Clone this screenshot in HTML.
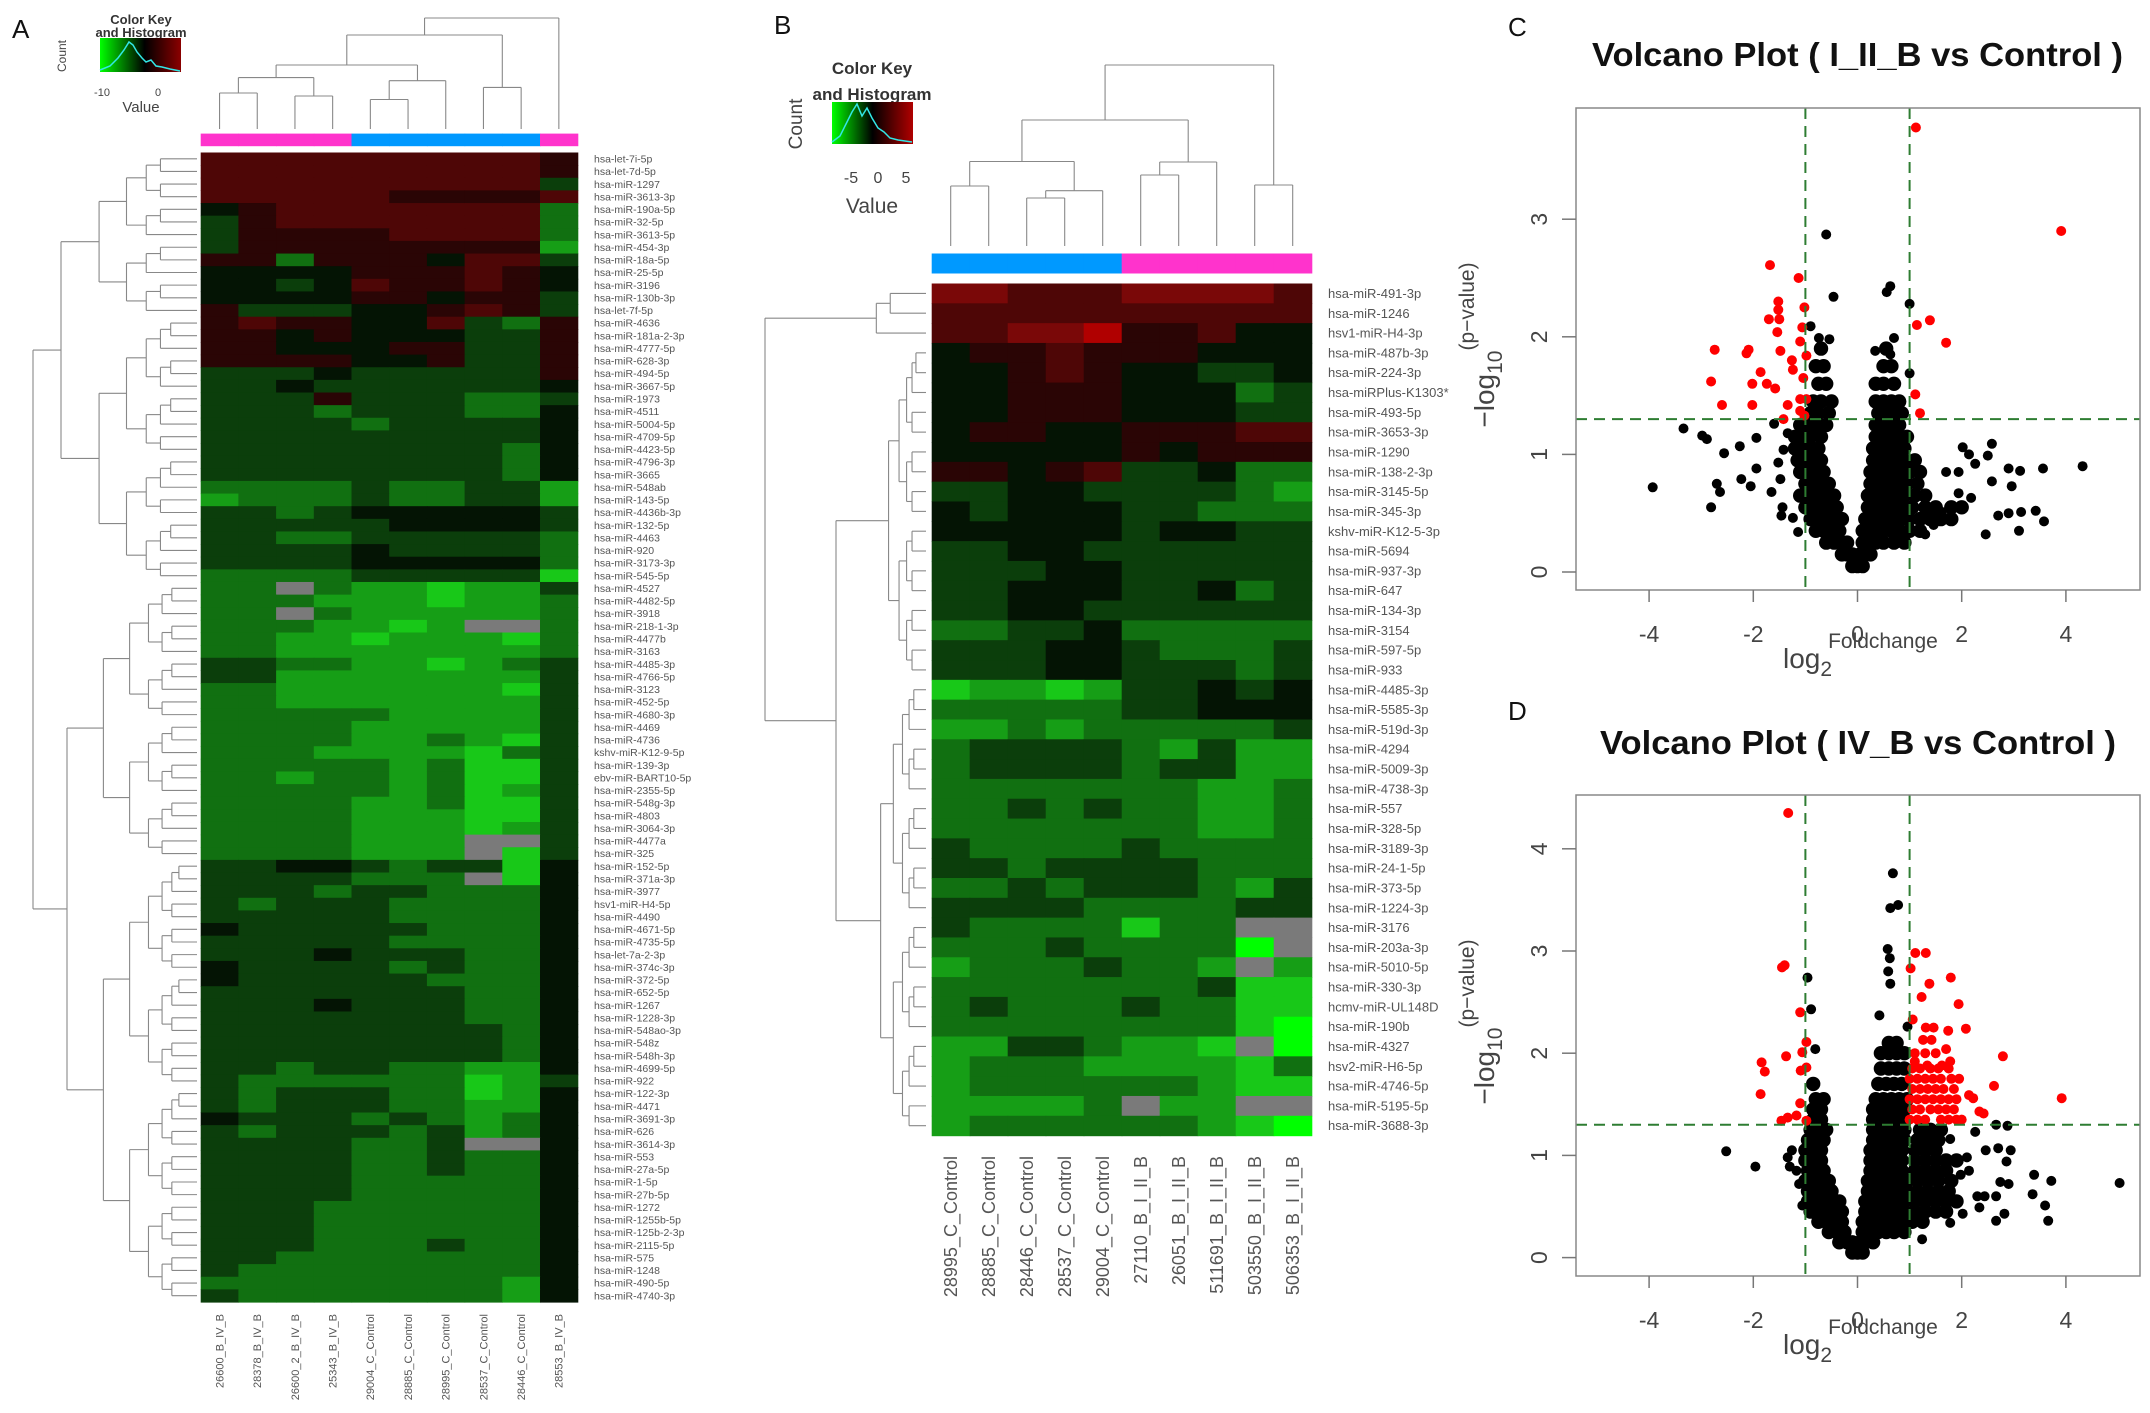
<!DOCTYPE html>
<html><head><meta charset="utf-8"><style>
html,body{margin:0;padding:0;background:#fff;}
svg{display:block;font-family:"Liberation Sans",Arial,sans-serif;}
</style></head><body>
<svg id="fig" width="2150" height="1413" viewBox="0 0 2150 1413" xmlns="http://www.w3.org/2000/svg">
<defs>
<linearGradient id="keyGrad" x1="0" x2="1" y1="0" y2="0">
<stop offset="0" stop-color="#00ff00"/><stop offset="0.55" stop-color="#000"/><stop offset="1" stop-color="#8b0000"/>
</linearGradient>
<linearGradient id="keyGradB" x1="0" x2="1" y1="0" y2="0">
<stop offset="0" stop-color="#00ff00"/><stop offset="0.5" stop-color="#000"/><stop offset="1" stop-color="#b00000"/>
</linearGradient>
</defs>
<g font-size="26" fill="#111">
<text x="12" y="38">A</text>
<text x="774" y="34">B</text>
<text x="1508" y="36">C</text>
<text x="1508" y="720">D</text>
</g>
<g>
<text x="141" y="24" text-anchor="middle" font-size="13" font-weight="bold" fill="#333">Color Key</text>
<text x="141" y="37" text-anchor="middle" font-size="13" font-weight="bold" fill="#333">and Histogram</text>
<rect x="100" y="38" width="81" height="34" fill="url(#keyGrad)"/>
<polyline points="100,70 110,66 118,58 124,50 129,42 133,45 137,52 142,58 146,62 151,60 156,66 162,67 170,69 180,71" fill="none" stroke="#33e6e6" stroke-width="1.5"/>
<text x="102" y="96" text-anchor="middle" font-size="11" fill="#444">-10</text>
<text x="158" y="96" text-anchor="middle" font-size="11" fill="#444">0</text>
<text x="141" y="112" text-anchor="middle" font-size="15" fill="#444">Value</text>
<text transform="translate(66,56) rotate(-90)" text-anchor="middle" font-size="12" fill="#444">Count</text>
</g>
<g>
<text x="872" y="74" text-anchor="middle" font-size="17" font-weight="bold" fill="#333">Color Key</text>
<text x="872" y="100" text-anchor="middle" font-size="17" font-weight="bold" fill="#333">and Histogram</text>
<rect x="832" y="102" width="81" height="42" fill="url(#keyGradB)"/>
<polyline points="832,142 840,136 846,124 852,112 857,104 862,116 867,108 872,118 878,128 884,132 890,138 898,140 912,142" fill="none" stroke="#33e6e6" stroke-width="1.5"/>
<text x="851" y="183" text-anchor="middle" font-size="16" fill="#444">-5</text>
<text x="878" y="183" text-anchor="middle" font-size="16" fill="#444">0</text>
<text x="906" y="183" text-anchor="middle" font-size="16" fill="#444">5</text>
<text x="872" y="213" text-anchor="middle" font-size="21" fill="#444">Value</text>
<text transform="translate(802,124) rotate(-90)" text-anchor="middle" font-size="19" fill="#444">Count</text>
</g>
<g id="layer"></g>
</svg>
<script>
const hmACols = ["26600_B_IV_B","28378_B_IV_B","26600_2_B_IV_B","25343_B_IV_B","29004_C_Control","28885_C_Control","28995_C_Control","28537_C_Control","28446_C_Control","28553_B_IV_B"];
const hmAGroups = ["B","B","B","B","C","C","C","C","C","B"];
const hmARowLabels = ["hsa-let-7i-5p","hsa-let-7d-5p","hsa-miR-1297","hsa-miR-3613-3p","hsa-miR-190a-5p","hsa-miR-32-5p","hsa-miR-3613-5p","hsa-miR-454-3p","hsa-miR-18a-5p","hsa-miR-25-5p","hsa-miR-3196","hsa-miR-130b-3p","hsa-let-7f-5p","hsa-miR-4636","hsa-miR-181a-2-3p","hsa-miR-4777-5p","hsa-miR-628-3p","hsa-miR-494-5p","hsa-miR-3667-5p","hsa-miR-1973","hsa-miR-4511","hsa-miR-5004-5p","hsa-miR-4709-5p","hsa-miR-4423-5p","hsa-miR-4796-3p","hsa-miR-3665","hsa-miR-548ab","hsa-miR-143-5p","hsa-miR-4436b-3p","hsa-miR-132-5p","hsa-miR-4463","hsa-miR-920","hsa-miR-3173-3p","hsa-miR-545-5p","hsa-miR-4527","hsa-miR-4482-5p","hsa-miR-3918","hsa-miR-218-1-3p","hsa-miR-4477b","hsa-miR-3163","hsa-miR-4485-3p","hsa-miR-4766-5p","hsa-miR-3123","hsa-miR-452-5p","hsa-miR-4680-3p","hsa-miR-4469","hsa-miR-4736","kshv-miR-K12-9-5p","hsa-miR-139-3p","ebv-miR-BART10-5p","hsa-miR-2355-5p","hsa-miR-548g-3p","hsa-miR-4803","hsa-miR-3064-3p","hsa-miR-4477a","hsa-miR-325","hsa-miR-152-5p","hsa-miR-371a-3p","hsa-miR-3977","hsv1-miR-H4-5p","hsa-miR-4490","hsa-miR-4671-5p","hsa-miR-4735-5p","hsa-let-7a-2-3p","hsa-miR-374c-3p","hsa-miR-372-5p","hsa-miR-652-5p","hsa-miR-1267","hsa-miR-1228-3p","hsa-miR-548ao-3p","hsa-miR-548z","hsa-miR-548h-3p","hsa-miR-4699-5p","hsa-miR-922","hsa-miR-122-3p","hsa-miR-4471","hsa-miR-3691-3p","hsa-miR-626","hsa-miR-3614-3p","hsa-miR-553","hsa-miR-27a-5p","hsa-miR-1-5p","hsa-miR-27b-5p","hsa-miR-1272","hsa-miR-1255b-5p","hsa-miR-125b-2-3p","hsa-miR-2115-5p","hsa-miR-575","hsa-miR-1248","hsa-miR-490-5p","hsa-miR-4740-3p"];
const hmAValues = ["7777777776","7777777776","7777777774","7777766667","5677777773","4677777773","4666677773","4666666662","6636665774","5555666765","5545766765","5555665664","6444556764","6766557436","6656555446","6655566446","6666556446","4445444446","4454444445","4446444334","4443444335","4444344445","4444444445","4444444435","4444444435","4444444435","3333433442","2333433442","4434555554","4444455554","4433444443","4444544443","4444555553","3333444441","33x3221224","3332221223","33x3222223","3332212xx3","3322122213","3322222223","4433221234","4422222224","3322222214","3322222224","3333322224","3333222224","3333223214","3332222134","3333323114","3323323114","3333323124","3333223114","3333222114","3333222124","3333222xx4","3333222x14","4455434415","4444333x15","4443443335","4344433335","4444433335","5444443335","4444433335","4445444335","5444434335","5444443335","4444444335","4445444335","4444444335","4444444435","4444444435","4444444435","4434433225","4333333124","4344433125","4344433225","5444343235","4344434235","4444334xx5","4444334335","4444334335","4444333335","4444333335","4443333335","4443333335","4443333335","4443334335","4433333335","4333333335","3333333325","4333333325"];
const hmBCols = ["28995_C_Control","28885_C_Control","28446_C_Control","28537_C_Control","29004_C_Control","27110_B_I_II_B","26051_B_I_II_B","511691_B_I_II_B","503550_B_I_II_B","506353_B_I_II_B"];
const hmBGroups = ["C","C","C","C","C","B","B","B","B","B"];
const hmBRowLabels = ["hsa-miR-491-3p","hsa-miR-1246","hsv1-miR-H4-3p","hsa-miR-487b-3p","hsa-miR-224-3p","hsa-miRPlus-K1303*","hsa-miR-493-5p","hsa-miR-3653-3p","hsa-miR-1290","hsa-miR-138-2-3p","hsa-miR-3145-5p","hsa-miR-345-3p","kshv-miR-K12-5-3p","hsa-miR-5694","hsa-miR-937-3p","hsa-miR-647","hsa-miR-134-3p","hsa-miR-3154","hsa-miR-597-5p","hsa-miR-933","hsa-miR-4485-3p","hsa-miR-5585-3p","hsa-miR-519d-3p","hsa-miR-4294","hsa-miR-5009-3p","hsa-miR-4738-3p","hsa-miR-557","hsa-miR-328-5p","hsa-miR-3189-3p","hsa-miR-24-1-5p","hsa-miR-373-5p","hsa-miR-1224-3p","hsa-miR-3176","hsa-miR-203a-3p","hsa-miR-5010-5p","hsa-miR-330-3p","hcmv-miR-UL148D","hsa-miR-190b","hsa-miR-4327","hsv2-miR-H6-5p","hsa-miR-4746-5p","hsa-miR-5195-5p","hsa-miR-3688-3p"];
const hmBValues = ["8877788887","7777777777","7788966755","5667666555","5567655445","5566655534","5566655544","5665566677","5555565666","6656744533","4455444432","5455544333","5555545544","4455444444","4445544444","4455544534","4455444444","3344533333","4445543334","4445544434","1221244545","3333344555","2232333334","3444432422","3444434422","3333333223","3343433223","3333333223","4333343333","4434444333","3343444324","4444333344","43333133xx","333433330x","23334332x2","3333333411","3433343311","3333333310","22443221x0","2333222213","2333333211","22223x22xx","2333333210"];
const volcCRedX = [1.12,3.91,-1.68,-1.13,-1.52,-1.52,-1.02,-1.70,-1.50,-1.54,-1.06,-1.10,-2.74,-2.09,-2.13,-1.48,-0.98,-1.26,-1.24,-1.86,-1.04,-2.81,-2.02,-1.74,-1.58,-2.60,-2.02,-1.34,-1.10,-0.98,-1.10,-1.02,-1.42,1.14,1.39,1.70,1.11,1.20];
const volcCRedY = [3.78,2.90,2.61,2.50,2.30,2.23,2.25,2.15,2.15,2.04,2.08,1.96,1.89,1.89,1.86,1.88,1.84,1.80,1.72,1.70,1.65,1.62,1.60,1.60,1.56,1.42,1.42,1.42,1.47,1.47,1.37,1.33,1.30,2.10,2.14,1.95,1.51,1.35];
const volcCBlackX = [-3.34,-2.98,-2.89,-2.56,-3.93,-2.70,-2.64,-2.81,-2.26,-1.94,-1.94,-2.23,-2.05,-1.65,-1.52,-1.48,-1.42,-1.44,-1.46,-1.14,-1.24,-1.60,-1.34,-0.60,-0.46,0.63,0.56,1.00,-0.90,-0.74,-0.54,0.70,0.34,0.63,1.00,2.58,2.02,2.14,2.50,2.26,1.70,1.94,2.90,3.12,3.56,4.32,2.96,2.58,1.94,2.18,2.70,2.90,3.14,3.42,3.58,3.10,2.46,1.62,1.46,1.30];
const volcCBlackY = [1.22,1.16,1.13,1.01,0.72,0.75,0.68,0.55,1.07,1.14,0.88,0.79,0.73,0.68,0.93,0.79,1.04,0.55,0.48,0.34,0.46,1.26,1.18,2.87,2.34,2.43,2.38,2.28,2.09,1.99,1.98,1.99,1.88,1.85,1.69,1.09,1.06,1.00,0.99,0.92,0.85,0.85,0.88,0.86,0.88,0.90,0.73,0.77,0.67,0.63,0.48,0.50,0.51,0.52,0.43,0.35,0.32,0.51,0.40,0.32];
const volcCCore = [
[0.05,[-0.1,0,0.1]],
[0.15,[-0.3,-0.2,-0.1,0.05,0.15,0.25]],
[0.25,[-0.6,-0.45,-0.3,-0.2,0.1,0.2,0.35,0.5,0.7,0.9]],
[0.35,[-0.8,-0.65,-0.5,-0.35,0.1,0.2,0.35,0.5,0.65,0.8,1.0,1.2]],
[0.45,[-0.9,-0.75,-0.6,-0.45,-0.3,0.15,0.25,0.4,0.55,0.7,0.85,1.0,1.2,1.4,1.6,1.8]],
[0.55,[-1.0,-0.85,-0.7,-0.55,-0.4,0.2,0.3,0.45,0.6,0.75,0.9,1.05,1.3,1.5,1.8,2.0]],
[0.65,[-1.1,-0.9,-0.75,-0.6,-0.45,0.2,0.3,0.45,0.6,0.75,0.9,1.1,1.3]],
[0.75,[-1.0,-0.85,-0.7,-0.55,0.25,0.35,0.5,0.65,0.8,0.95,1.15]],
[0.85,[-1.1,-0.95,-0.8,-0.65,0.25,0.4,0.55,0.7,0.85,1.0,1.2]],
[0.95,[-1.15,-1.0,-0.85,-0.7,0.3,0.45,0.6,0.75,0.9,1.1]],
[1.05,[-1.2,-1.05,-0.9,-0.75,0.3,0.45,0.6,0.75,0.9]],
[1.15,[-1.2,-1.05,-0.9,-0.7,0.35,0.5,0.65,0.8,0.95]],
[1.25,[-1.1,-0.95,-0.8,-0.6,0.35,0.5,0.65,0.8]],
[1.35,[-0.9,-0.75,-0.55,0.4,0.55,0.7,0.85]],
[1.45,[-0.85,-0.7,-0.5,0.35,0.5,0.65,0.8]],
[1.6,[-0.75,-0.6,0.35,0.5,0.7]],
[1.75,[-0.8,-0.65,0.5,0.65]],
[1.9,[-0.7,0.55]]];
const volcDRedX = [-1.33,-1.45,-1.40,-1.10,-0.98,-1.06,-1.37,-1.84,-1.78,-1.09,-0.98,-1.86,-1.10,-1.34,-1.46,-1.17,-0.98,1.11,1.31,1.02,1.79,1.38,1.23,1.94,1.06,1.31,1.46,1.74,2.08,1.26,1.42,1.70,2.79,1.78,1.10,1.34,1.62,2.62,3.92,2.14,2.22,2.42,2.34,1.0,1.15,1.3,1.6,1.75,1.9,2.0,1.05,1.2,1.4,1.55,1.7,1.85,1.0,1.15,1.3,1.45,1.6,1.75,1.9,1.05,1.2,1.35,1.5,1.65,1.85,1.0,1.15,1.3,1.45,1.6,1.8,1.95,1.05,1.2,1.4,1.55,1.75,1.1,1.3,1.5];
const volcDRedY = [4.35,2.84,2.86,2.40,2.11,2.01,1.97,1.91,1.82,1.83,1.86,1.60,1.51,1.37,1.34,1.39,1.34,2.98,2.98,2.83,2.74,2.68,2.55,2.48,2.33,2.25,2.25,2.22,2.24,2.13,2.13,2.04,1.97,1.92,1.92,1.88,1.88,1.68,1.56,1.59,1.56,1.41,1.43,1.35,1.35,1.35,1.35,1.35,1.35,1.35,1.45,1.45,1.45,1.45,1.45,1.45,1.55,1.55,1.55,1.55,1.55,1.55,1.55,1.65,1.65,1.65,1.65,1.65,1.65,1.75,1.75,1.75,1.75,1.75,1.75,1.75,1.85,1.85,1.85,1.85,1.85,2.0,2.0,2.0];
const volcDBlackX = [0.68,0.63,0.78,0.58,0.62,0.59,0.63,0.42,0.96,-0.96,-0.89,-0.81,-2.52,-1.96,2.66,2.88,2.94,2.70,2.46,2.86,3.39,3.72,5.03,3.36,3.60,3.66,2.90,2.74,2.66,2.30,2.44,2.34,2.66,2.82,1.78,1.24,2.02,2.10,1.98,2.14,1.78,2.26,-1.34,-1.26,-1.30,-1.17,-1.12,-1.06];
const volcDBlackY = [3.76,3.42,3.45,3.02,2.93,2.80,2.68,2.37,2.26,2.74,2.43,2.04,1.04,0.89,1.30,1.29,1.05,1.07,1.05,0.94,0.81,0.75,0.73,0.62,0.51,0.36,0.72,0.74,0.60,0.60,0.60,0.49,0.36,0.43,0.34,0.18,0.43,0.98,0.81,0.85,1.16,1.23,0.98,1.05,0.89,0.85,0.72,0.51];
const volcDCore = [
[0.05,[-0.1,0,0.1]],
[0.15,[-0.35,-0.2,-0.1,0.05,0.15,0.3]],
[0.25,[-0.55,-0.4,-0.25,0.1,0.25,0.4,0.55,0.7,0.9]],
[0.35,[-0.75,-0.6,-0.45,-0.3,0.1,0.25,0.4,0.55,0.7,0.85,1.05,1.25]],
[0.45,[-0.9,-0.75,-0.6,-0.45,-0.3,0.15,0.3,0.45,0.6,0.75,0.9,1.1,1.3,1.5,1.7]],
[0.55,[-0.95,-0.8,-0.65,-0.5,-0.35,0.15,0.3,0.45,0.6,0.75,0.9,1.1,1.3,1.5,1.7,1.9]],
[0.65,[-0.95,-0.8,-0.65,-0.5,0.2,0.35,0.5,0.65,0.8,0.95,1.15,1.35,1.55,1.75]],
[0.75,[-1.0,-0.85,-0.7,-0.55,0.2,0.35,0.5,0.65,0.8,0.95,1.15,1.35,1.55,1.8]],
[0.85,[-0.95,-0.8,-0.65,0.25,0.4,0.55,0.7,0.85,1.1,1.3,1.5,1.7]],
[0.95,[-1.0,-0.85,-0.7,0.25,0.4,0.55,0.7,0.85,1.1,1.3,1.5,1.7,1.9]],
[1.05,[-1.0,-0.85,-0.7,0.25,0.4,0.55,0.7,0.85,1.1,1.3,1.5]],
[1.15,[-0.95,-0.8,-0.65,0.3,0.45,0.6,0.75,0.9,1.15,1.35,1.55]],
[1.25,[-0.9,-0.75,-0.6,0.3,0.45,0.6,0.75,0.9,1.2,1.4,1.6]],
[1.35,[-0.85,-0.7,0.3,0.45,0.6,0.75,0.9]],
[1.45,[-0.85,-0.7,0.3,0.45,0.6,0.75,0.9]],
[1.55,[-0.8,-0.65,0.35,0.5,0.65,0.8,0.95]],
[1.7,[-0.85,0.4,0.55,0.7,0.85]],
[1.85,[0.45,0.6,0.75,0.9]],
[2.0,[0.45,0.6,0.75,0.9]],
[2.1,[0.6,0.75]]];
const volcXTicks = [-4,-2,0,2,4];
const volcCYTicks = [0,1,2,3];
const volcDYTicks = [0,1,2,3,4];

const NS = "http://www.w3.org/2000/svg";
const layer = document.getElementById("layer");
function mk(tag, attrs, parent){
  const e = document.createElementNS(NS, tag);
  for (const k in attrs) e.setAttribute(k, attrs[k]);
  (parent||layer).appendChild(e);
  return e;
}
const palette = ["#00ff00","#18c818","#169e16","#117011","#0b3e0b","#041404","#2a0505","#4e0606","#7a0808","#b00000"];
function cellColor(ch){ return ch === "x" ? "#7a7a7a" : palette[+ch]; }
const groupColor = {B:"#ff33cc", C:"#0099ff"};

function drawHeatmap(cfg){
  const g = mk("g", {});
  
  
  const nR = cfg.values.length, nC = cfg.cols.length;
  const cw = (cfg.x1 - cfg.x0)/nC, rh = (cfg.y1 - cfg.y0)/nR;
  const colX = c => cfg.x0 + c*cw;
  const rowY = r => cfg.y0 + r*rh;
  cfg.values.forEach((row, r) => {
    for (let c = 0; c < nC; c++){
      const rc = mk("rect", {x: colX(c).toFixed(2), y: rowY(r).toFixed(2), width: (cw+0.6).toFixed(2), height: (rh+0.6).toFixed(2), fill: cellColor(row[c])}, g);
      
      
    }
  });
  cfg.groups.forEach((gr, c) => {
    const b = mk("rect", {x: colX(c).toFixed(2), y: cfg.barY, width: (cw+0.6).toFixed(2), height: cfg.barH, fill: groupColor[gr]}, g);
    
    
  });
  cfg.rowLabels.forEach((lab, r) => {
    const t = mk("text", {x: cfg.labelX, y: (rowY(r) + rh/2 + cfg.rowFont*0.35).toFixed(1), "font-size": cfg.rowFont, fill: "#555"}, g);
    t.textContent = lab;
    
    
  });
  cfg.cols.forEach((lab, c) => {
    const cx = colX(c) + cw/2 + cfg.colFont*0.35;
    const t = mk("text", {transform: `translate(${cx.toFixed(1)},${cfg.colLabelY}) rotate(-90)`, "text-anchor": "end", "font-size": cfg.colFont, fill: "#555"}, g);
    t.textContent = lab;
    
    
  });
  return {colX: c => colX(c) + cw/2, rowY: r => rowY(r) + rh/2};
}

function line(x1,y1,x2,y2,parent,stroke,sw){
  return mk("line", {x1, y1, x2, y2, stroke: stroke||"#888", "stroke-width": sw||1.1}, parent);
}
function colMerge(g, xa, ya, xb, yb, yTop){
  line(xa, ya, xa, yTop, g); line(xb, yb, xb, yTop, g); line(xa, yTop, xb, yTop, g);
  return {x: (xa+xb)/2, y: yTop};
}
function rowMerge(g, a, b, xNode){
  line(a.x, a.y, xNode, a.y, g); line(b.x, b.y, xNode, b.y, g); line(xNode, a.y, xNode, b.y, g);
  return {x: xNode, y: (a.y+b.y)/2};
}
function rowTree(g, lo, hi, depth, leafX, baseX, rowY){
  if (lo === hi) return {x: leafX, y: rowY(lo)};
  const m = Math.floor((lo+hi)/2);
  const a = rowTree(g, lo, m, depth+1, leafX, baseX, rowY);
  const b = rowTree(g, m+1, hi, depth+1, leafX, baseX, rowY);
  const xn = leafX - (leafX - baseX) * Math.pow(0.72, depth);
  return rowMerge(g, a, b, Math.min(xn, a.x-2, b.x-2));
}

const A = drawHeatmap({name:"heatmap-a", cols:hmACols, groups:hmAGroups, values:hmAValues, rowLabels:hmARowLabels,
  x0:200.7, x1:577.7, y0:152.5, y1:1302, barY:133.6, barH:12.6, labelX:594, rowFont:10.5, colFont:11, colLabelY:1314});
{
  const g = mk("g", {});
  
  
  const L = 129, cx = A.colX;
  const n12 = colMerge(g, cx(0), L, cx(1), L, 93);
  const n34 = colMerge(g, cx(2), L, cx(3), L, 96);
  const nL = colMerge(g, n12.x, n12.y, n34.x, n34.y, 77.6);
  const n56 = colMerge(g, cx(4), L, cx(5), L, 99.5);
  const nM = colMerge(g, n56.x, n56.y, cx(6), L, 80.7);
  const nLM = colMerge(g, nL.x, nL.y, nM.x, nM.y, 65);
  const nG = colMerge(g, cx(7), L, cx(8), L, 87.4);
  const nAll = colMerge(g, nLM.x, nLM.y, nG.x, nG.y, 35);
  colMerge(g, nAll.x, nAll.y, cx(9), L, 18);
}
{
  const g = mk("g", {});
  
  
  const leaf = 197;
  const a1 = rowTree(g, 0, 12, 1, leaf, 61, A.rowY);
  const a2 = rowTree(g, 13, 33, 1, leaf, 61, A.rowY);
  const top1 = rowMerge(g, a1, a2, 61);
  const b1 = rowTree(g, 34, 55, 1, leaf, 67, A.rowY);
  const b2 = rowTree(g, 56, 90, 1, leaf, 67, A.rowY);
  const top2 = rowMerge(g, b1, b2, 67);
  rowMerge(g, top1, top2, 33);
}

const B = drawHeatmap({name:"heatmap-b", cols:hmBCols, groups:hmBGroups, values:hmBValues, rowLabels:hmBRowLabels,
  x0:931.7, x1:1311.7, y0:283.5, y1:1135.6, barY:253.5, barH:20, labelX:1328, rowFont:13, colFont:18, colLabelY:1156});
{
  const g = mk("g", {});
  
  
  const L = 246, cx = B.colX;
  const n12 = colMerge(g, cx(0), L, cx(1), L, 186);
  const n34 = colMerge(g, cx(2), L, cx(3), L, 198);
  const n345 = colMerge(g, n34.x, n34.y, cx(4), L, 190.7);
  const nC = colMerge(g, n12.x, n12.y, n345.x, n345.y, 161.5);
  const n67 = colMerge(g, cx(5), L, cx(6), L, 175);
  const nD = colMerge(g, n67.x, n67.y, cx(7), L, 162);
  const nCD = colMerge(g, nC.x, nC.y, nD.x, nD.y, 120);
  const n910 = colMerge(g, cx(8), L, cx(9), L, 185);
  colMerge(g, nCD.x, nCD.y, n910.x, n910.y, 65);
}
{
  const g = mk("g", {});
  
  
  const leaf = 926;
  const t1 = rowTree(g, 0, 2, 1, leaf, 857, B.rowY);
  const r1 = rowTree(g, 3, 19, 1, leaf, 874, B.rowY);
  const r2 = rowTree(g, 20, 42, 1, leaf, 863, B.rowY);
  const t2 = rowMerge(g, r1, r2, 836);
  rowMerge(g, t1, t2, 765);
}

function drawVolcano(cfg){
  const g = mk("g", {});
  
  
  const xs = v => 1857.5 + 52.1*v;
  const ys = v => cfg.y0px - cfg.yPer*v;
  const title = mk("text", {x: cfg.titleX, y: cfg.titleY, "font-size": 33, "font-weight": "bold", fill: "#111", textLength: cfg.titleLen, lengthAdjust: "spacingAndGlyphs"}, g);
  title.textContent = cfg.title;
  
  
  const dots = mk("g", {}, g);
  
  
  cfg.core.forEach(([yv, xl]) => xl.forEach(xv => {
    const c = mk("circle", {cx: xs(xv).toFixed(1), cy: ys(yv).toFixed(1), r: 7.2, fill: "#000"}, dots);
    
    
  }));
  cfg.bx.forEach((xv, i) => {
    const c = mk("circle", {cx: xs(xv).toFixed(1), cy: ys(cfg.by[i]).toFixed(1), r: 5, fill: "#000"}, dots);
    
    
  });
  cfg.rx.forEach((xv, i) => {
    const c = mk("circle", {cx: xs(xv).toFixed(1), cy: ys(cfg.ry[i]).toFixed(1), r: 5, fill: "#ff0000"}, dots);
    
    
  });
  const dash = {stroke: "#2e7d32", "stroke-width": 2, "stroke-dasharray": "11,7"};
  [[xs(-1), cfg.boxY0, xs(-1), cfg.boxY1, 'fold-threshold-left'], [xs(1), cfg.boxY0, xs(1), cfg.boxY1, 'fold-threshold-right'], [1576, ys(1.3), 2140, ys(1.3), 'pvalue-threshold']].forEach(d => {
    const l = mk("line", Object.assign({x1: d[0], y1: d[1], x2: d[2], y2: d[3]}, dash), g);
    
    
  });
  const box = mk("rect", {x: 1576, y: cfg.boxY0, width: 564, height: cfg.boxY1 - cfg.boxY0, fill: "none", stroke: "#888", "stroke-width": 1.5}, g);
  
  
  volcXTicks.forEach(v => {
    line(xs(v), cfg.boxY1, xs(v), cfg.boxY1 + 12, g, "#777", 1.5);
    const t = mk("text", {x: xs(v), y: cfg.boxY1 + 52, "text-anchor": "middle", "font-size": 23, fill: "#444"}, g);
    t.textContent = v;
    
    
  });
  cfg.yTicks.forEach(v => {
    line(1576, ys(v), 1562, ys(v), g, "#777", 1.5);
    const t = mk("text", {transform: `translate(1547,${ys(v).toFixed(1)}) rotate(-90)`, "text-anchor": "middle", "font-size": 23, fill: "#444"}, g);
    t.textContent = v;
    
    
  });
  const xt = mk("text", {x: 1783, y: cfg.boxY1 + 78, "font-size": 28, fill: "#444"}, g);
  
  
  xt.innerHTML = 'log<tspan dy="8" font-size="21">2</tspan><tspan dy="-28" dx="-4" font-size="21">Foldchange</tspan>';
  const yt = mk("text", {transform: `translate(1494,${cfg.yTitleC}) rotate(-90)`, "text-anchor": "middle", "font-size": 28, fill: "#444"}, g);
  
  
  yt.innerHTML = '\u2212log<tspan dy="8" font-size="21">10</tspan><tspan dy="-28" font-size="21">(p\u2212value)</tspan>';
}
drawVolcano({name:"volcano-c", title:"Volcano Plot ( I_II_B vs Control )", titleX:1592, titleY:66, titleLen:531,
  y0px:572, yPer:117.6, boxY0:108, boxY1:590, yTicks:volcCYTicks, yTitleC:345,
  core:volcCCore, bx:volcCBlackX, by:volcCBlackY, rx:volcCRedX, ry:volcCRedY});
drawVolcano({name:"volcano-d", title:"Volcano Plot ( IV_B vs Control )", titleX:1600, titleY:754, titleLen:516,
  y0px:1257.6, yPer:102.2, boxY0:795, boxY1:1276, yTicks:volcDYTicks, yTitleC:1022,
  core:volcDCore, bx:volcDBlackX, by:volcDBlackY, rx:volcDRedX, ry:volcDRedY});
</script>
</body></html>
